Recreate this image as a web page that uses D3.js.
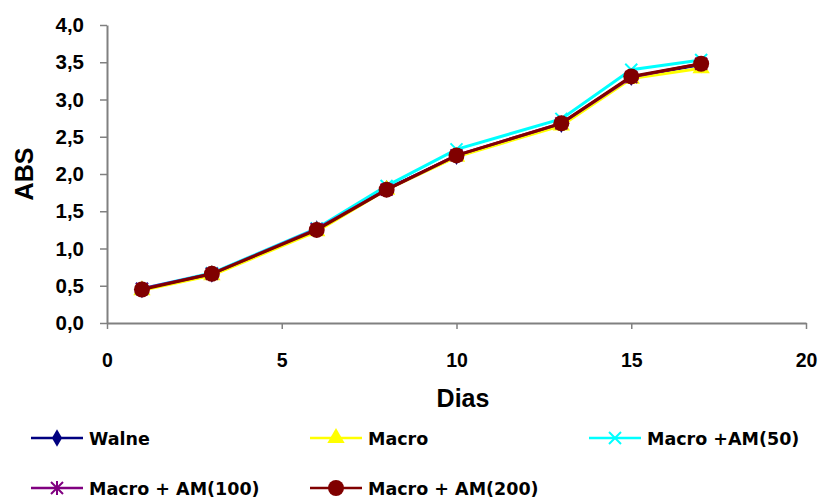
<!DOCTYPE html>
<html>
<head>
<meta charset="utf-8">
<script src="https://cdn.jsdelivr.net/npm/d3@7"></script>
<style>
  body { margin: 0; background: #fff; }
  svg { display: block; }
  text { font-family: "Liberation Sans", Arial, sans-serif; font-weight: bold; fill: #000; }
  .legend text { font-family: "DejaVu Sans", Verdana, sans-serif; }
</style>
</head>
<body>
<div id="chart"></div>
<script>
// data
const dias = [1, 3, 6, 8, 10, 13, 15, 17];
const walne = [0.45, 0.66, 1.26, 1.80, 2.24, 2.67, 3.30, 3.47];
const macro = [0.44, 0.64, 1.23, 1.79, 2.23, 2.65, 3.28, 3.42];
const macroAm50 = [0.46, 0.67, 1.27, 1.84, 2.33, 2.74, 3.40, 3.53];
const macroAm100 = [0.46, 0.66, 1.26, 1.79, 2.25, 2.68, 3.30, 3.48];
const macroAm200 = [0.45, 0.66, 1.25, 1.79, 2.25, 2.68, 3.31, 3.48];
const xTicks = [0, 5, 10, 15, 20];
const yTicks = [0, 0.5, 1, 1.5, 2, 2.5, 3, 3.5, 4];

const series = [
  { name: 'Walne', values: walne, color: '#000080', symbol: 'diamond' },
  { name: 'Macro', values: macro, color: '#ffff00', symbol: 'triangle' },
  { name: 'Macro +AM(50)', values: macroAm50, color: '#00ffff', symbol: 'x' },
  { name: 'Macro + AM(100)', values: macroAm100, color: '#800080', symbol: 'star' },
  { name: 'Macro + AM(200)', values: macroAm200, color: '#800000', symbol: 'circle' },
];

const width = 819, height = 500;
const margin = { left: 107, right: 13, top: 25, bottom: 177 };

const svg = d3.select('#chart').append('svg')
  .attr('width', width)
  .attr('height', height);

const x = d3.scaleLinear().domain([0, 20]).range([margin.left, width - margin.right]);
const y = d3.scaleLinear().domain([0, 4]).range([height - margin.bottom, margin.top]);

const fmt = d => d3.format('.1f')(d).replace('.', ',');

// y axis
const yAxis = svg.append('g')
  .attr('transform', `translate(${margin.left},0)`)
  .call(d3.axisLeft(y).tickValues(yTicks).tickFormat(fmt).tickSize(7).tickSizeOuter(0));
yAxis.attr('font-family', null).attr('font-size', null);
yAxis.select('.domain').attr('stroke', '#808080').attr('stroke-width', 2);
yAxis.selectAll('.tick line').attr('stroke', '#808080').attr('stroke-width', 1.5);
yAxis.selectAll('.tick text')
  .attr('x', -23)
  .style('font-size', '20.5px');

// x axis
const xAxis = svg.append('g')
  .attr('transform', `translate(0,${height - margin.bottom})`)
  .call(d3.axisBottom(x).tickValues(xTicks).tickSize(6).tickSizeOuter(0));
xAxis.attr('font-family', null).attr('font-size', null);
xAxis.select('.domain').attr('stroke', '#808080').attr('stroke-width', 2);
xAxis.selectAll('.tick line').attr('stroke', '#808080').attr('stroke-width', 1.5);
xAxis.selectAll('.tick text')
  .attr('dy', null)
  .attr('y', 44)
  .style('font-size', '19.5px');

// axis titles
svg.append('text')
  .attr('transform', `translate(33,${(margin.top + height - margin.bottom) / 2}) rotate(-90)`)
  .attr('text-anchor', 'middle')
  .style('font-size', '25px')
  .text('ABS');

svg.append('text')
  .attr('x', 463)
  .attr('y', 407)
  .attr('text-anchor', 'middle')
  .style('font-size', '25px')
  .text('Dias');

// markers
function drawMarker(g, type, color) {
  if (type === 'diamond') {
    g.append('path').attr('d', d3.symbol(d3.symbolDiamond, 90)()).attr('fill', color);
  } else if (type === 'triangle') {
    g.append('path').attr('d', d3.symbol(d3.symbolTriangle, 130)()).attr('fill', color);
  } else if (type === 'x') {
    g.append('path').attr('d', 'M-6,-6L6,6M-6,6L6,-6')
      .attr('stroke', color).attr('stroke-width', 2).attr('fill', 'none');
  } else if (type === 'star') {
    g.append('path').attr('d', 'M-6,-6L6,6M-6,6L6,-6M0,-7L0,7')
      .attr('stroke', color).attr('stroke-width', 2).attr('fill', 'none');
  } else {
    g.append('circle').attr('r', 8).attr('fill', color);
  }
}

const line = d3.line().x(d => x(d[0])).y(d => y(d[1]));

series.forEach(s => {
  const pts = dias.map((d, i) => [d, s.values[i]]);
  svg.append('path')
    .datum(pts)
    .attr('fill', 'none')
    .attr('stroke', s.color)
    .attr('stroke-width', 3)
    .attr('d', line);
  pts.forEach(p => {
    const g = svg.append('g').attr('transform', `translate(${x(p[0])},${y(p[1])})`);
    drawMarker(g, s.symbol, s.color);
  });
});

// legend
const legendPos = [
  [31, 438], [310, 438], [589, 438],
  [31, 488], [310, 488],
];
const legend = svg.append('g').attr('class', 'legend');
series.forEach((s, i) => {
  const [lx, ly] = legendPos[i];
  const g = legend.append('g').attr('transform', `translate(${lx},${ly})`);
  g.append('line').attr('x1', 0).attr('x2', 52).attr('y1', 0).attr('y2', 0)
    .attr('stroke', s.color).attr('stroke-width', 2.5);
  const m = g.append('g').attr('transform', 'translate(26,0)');
  drawMarker(m, s.symbol, s.color);
  g.append('text')
    .attr('x', 58).attr('y', 7)
    .style('font-size', '17.5px')
    .text(s.name);
});
</script>
</body>
</html>
